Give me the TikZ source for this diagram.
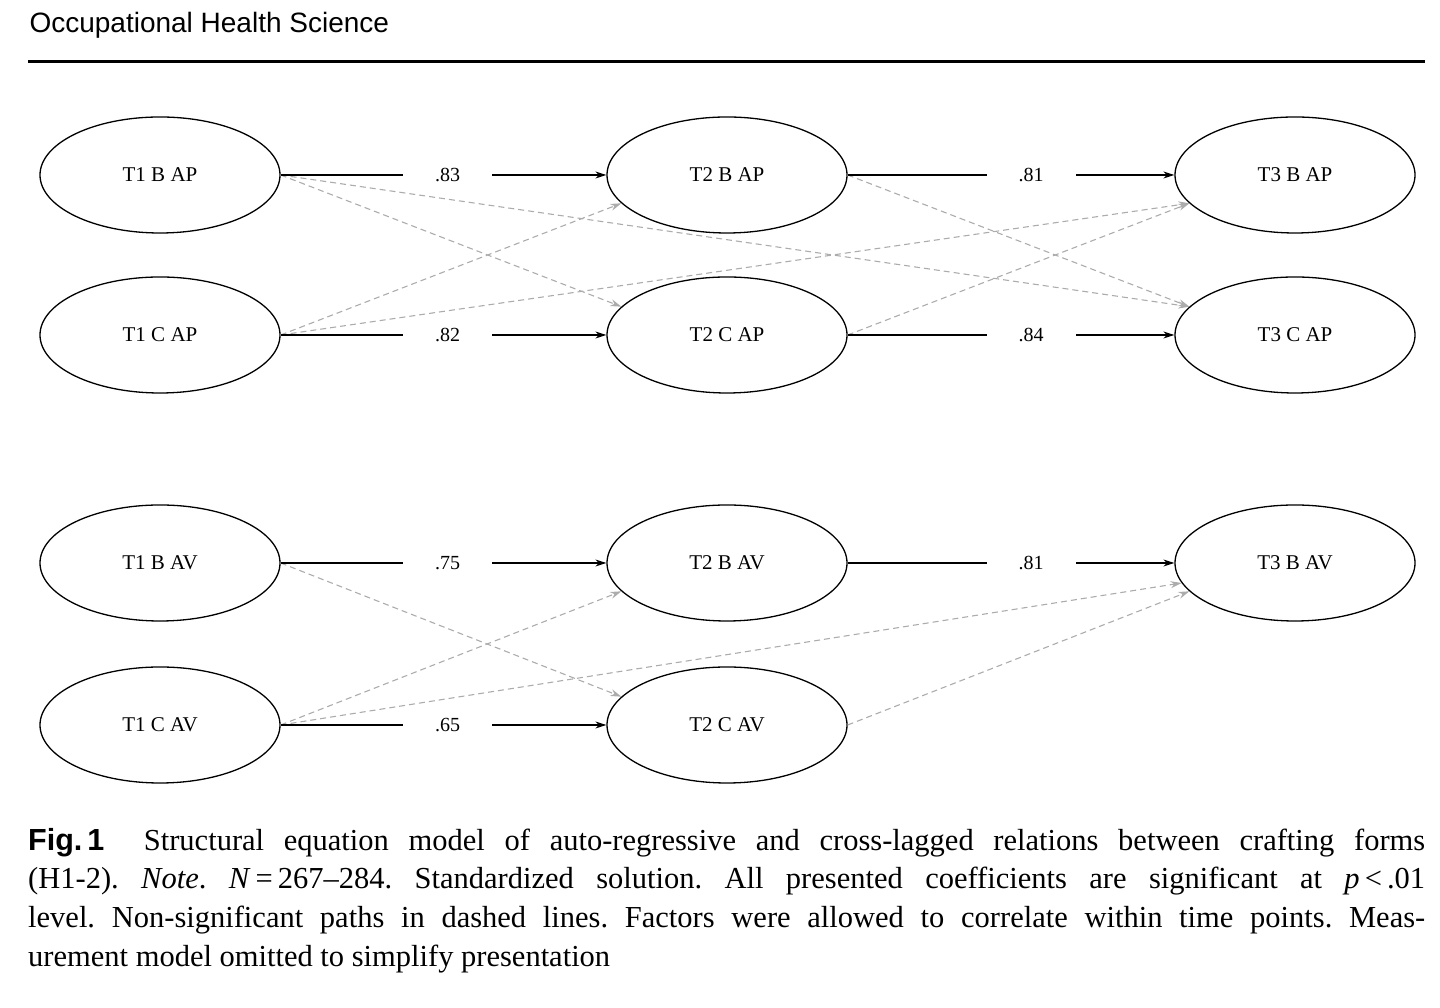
\documentclass[tikz,border=0pt]{standalone}
\usepackage{fontspec}
\setmainfont{Liberation Serif}
\newfontfamily\hdrfont{Liberation Sans}
\usetikzlibrary{shapes.geometric,arrows.meta}
\begin{document}
\frenchspacing
\begin{tikzpicture}[x=1pt,y=1pt,
  lat/.style={ellipse,draw,line width=1.3pt,minimum width=240pt,minimum height=116pt,font=\fontsize{21}{24}\selectfont},
  solidp/.style={line width=1.2pt,-{Stealth[length=11pt,width=7pt]}},
  dashp/.style={line width=1.1pt,dashed,dash pattern=on 6pt off 4pt,draw=gray!65,-{Stealth[length=11pt,width=7pt,fill=gray!65]}},
  lbl/.style={fill=white,inner xsep=32pt,font=\fontsize{20}{22}\selectfont}]
\useasboundingbox (0,0) rectangle (1440,1008);
\node[anchor=west,font=\hdrfont\fontsize{28}{30}\selectfont] (hdr) at (26,983) {Occupational Health Science};
\draw[line width=3pt] (28,946) -- (1425,946);
% nodes
\node[lat] (a1) at (160,833) {T1 B AP};
\node[lat] (a2) at (727,833) {T2 B AP};
\node[lat] (a3) at (1295,833) {T3 B AP};
\node[lat] (b1) at (160,673) {T1 C AP};
\node[lat] (b2) at (727,673) {T2 C AP};
\node[lat] (b3) at (1295,673) {T3 C AP};
\node[lat] (c1) at (160,445) {T1 B AV};
\node[lat] (c2) at (727,445) {T2 B AV};
\node[lat] (c3) at (1295,445) {T3 B AV};
\node[lat] (d1) at (160,283) {T1 C AV};
\node[lat] (d2) at (727,283) {T2 C AV};
% dashed
\draw[dashp] (a1.east) -- (b2.165);
\draw[dashp] (a1.east) -- (b3.165);
\draw[dashp] (b1.east) -- (a2.195);
\draw[dashp] (b1.east) -- (a3.195);
\draw[dashp] (a2.east) -- (b3.165);
\draw[dashp] (b2.east) -- (a3.195);
\draw[dashp] (c1.east) -- (d2.165);
\draw[dashp] (d1.east) -- (c2.195);
\draw[dashp] (d1.east) -- (c3.190);
\draw[dashp] (d2.east) -- (c3.195);
% solid
\draw[solidp] (a1) -- node[lbl,xshift=4pt]{.83} (a2);
\draw[solidp] (a2) -- node[lbl,xshift=20pt]{.81} (a3);
\draw[solidp] (b1) -- node[lbl,xshift=4pt]{.82} (b2);
\draw[solidp] (b2) -- node[lbl,xshift=20pt]{.84} (b3);
\draw[solidp] (c1) -- node[lbl,xshift=4pt]{.75} (c2);
\draw[solidp] (c2) -- node[lbl,xshift=20pt]{.81} (c3);
\draw[solidp] (d1) -- node[lbl,xshift=4pt]{.65} (d2);
% caption
\node[anchor=north west,text width=1397pt,inner sep=0pt,align=justify,font=\fontsize{30.5}{38.7}\selectfont] (cap) at (28,180)
{{\hdrfont\bfseries Fig.\,1}\ \ Structural equation model of auto-regressive and cross-lagged relations between crafting forms\linebreak (H1-2). \textit{Note}. \textit{N}\,=\,267--284. Standardized solution. All presented coefficients are significant at \textit{p}\,<\,.01\linebreak level. Non-significant paths in dashed lines. Factors were allowed to correlate within time points. Meas-\linebreak urement model omitted to simplify presentation};
\end{tikzpicture}
\end{document}
